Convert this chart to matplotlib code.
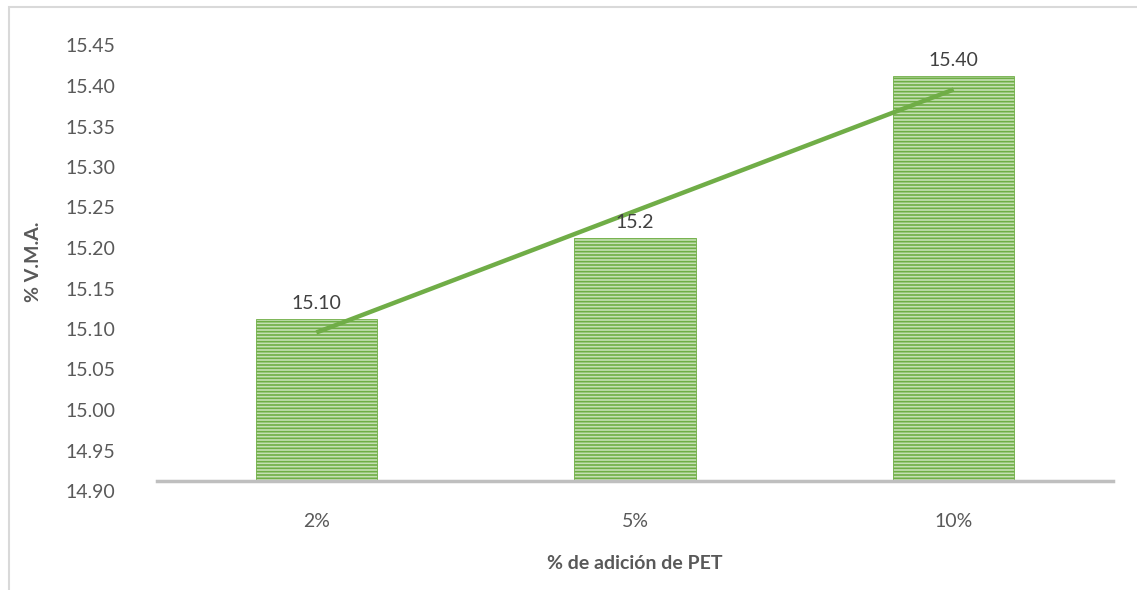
import matplotlib.pyplot as plt
import matplotlib.transforms as mtransforms
import matplotlib.patches as mpatches
import numpy as np

plt.rcParams['font.family'] = ['Lato', 'DejaVu Sans']
plt.rcParams['hatch.linewidth'] = 1.2

categorias = ['2%', '5%', '10%']
vma = [15.10, 15.20, 15.40]
etiquetas = ['15.10', '15.2', '15.40']
yticks = [14.90, 14.95, 15.00, 15.05, 15.10, 15.15, 15.20, 15.25, 15.30, 15.35, 15.40, 15.45]

verde = '#70AD47'
gris = '#595959'

fig = plt.figure(figsize=(11.37, 5.90), dpi=100)
ax = fig.add_axes([157 / 1137, 1 - 481 / 590, (1113 - 157) / 1137, (481 - 35.5) / 590])

x = np.arange(len(categorias))
ax.bar(x, np.array(vma) - 14.90, bottom=14.90, width=0.38, color='#C5E0B4',
       edgecolor='#6FAE45', linewidth=0.6, hatch='-----', zorder=2)

# linea de tendencia lineal
z = np.polyfit(x + 1, vma, 1)
p = np.poly1d(z)
ax.plot(x, p(x + 1), color=verde, linewidth=3.2, zorder=3, solid_capstyle='butt')

for xi, v, t in zip(x, vma, etiquetas):
    ax.annotate(t, (xi, v), xytext=(0, 5), textcoords='offset points',
                ha='center', va='bottom', fontsize=14, color='#404040')

ax.set_xlim(-0.5, 2.5)
ax.set_ylim(14.90, 15.45)
ax.set_yticks(yticks)
ax.set_yticklabels(['%.2f' % t for t in yticks])
ax.set_xticks(x)
ax.set_xticklabels(categorias)

for s in ['top', 'right', 'left']:
    ax.spines[s].set_visible(False)
ax.spines['bottom'].set_color('#BFBFBF')
ax.spines['bottom'].set_linewidth(2.5)
ax.tick_params(axis='y', length=0, pad=30, labelsize=14, labelcolor=gris)
ax.tick_params(axis='x', length=0, pad=23, labelsize=14, labelcolor=gris)

# las etiquetas del eje y estan desplazadas hacia abajo en el original
off = mtransforms.ScaledTranslation(0, -10 / 100, fig.dpi_scale_trans)
for lab in ax.get_yticklabels():
    lab.set_transform(lab.get_transform() + off)

ax.set_ylabel('% V.M.A.', fontsize=14, fontweight='bold', color=gris)
ax.yaxis.set_label_coords(42 / 1137, 1 - 262 / 590, transform=fig.transFigure)
ax.set_xlabel('% de adición de PET', fontsize=14, fontweight='bold', color=gris, labelpad=18)

# marco del grafico
fig.patches.append(mpatches.Rectangle((9 / 1137, -0.1), 1.2, 1 - 7 / 590 + 0.1,
                                      transform=fig.transFigure, fill=False,
                                      edgecolor='#D9D9D9', linewidth=1.5))
# titulo recortado en el borde superior, como en la imagen original
fig.text(565 / 1137, 1 + 5 / 590, 'Vacíos en el agregado mineral (%)', ha='center',
         va='baseline', fontsize=16, fontweight='bold', color='black')

fig.savefig('out.png', dpi=100)
